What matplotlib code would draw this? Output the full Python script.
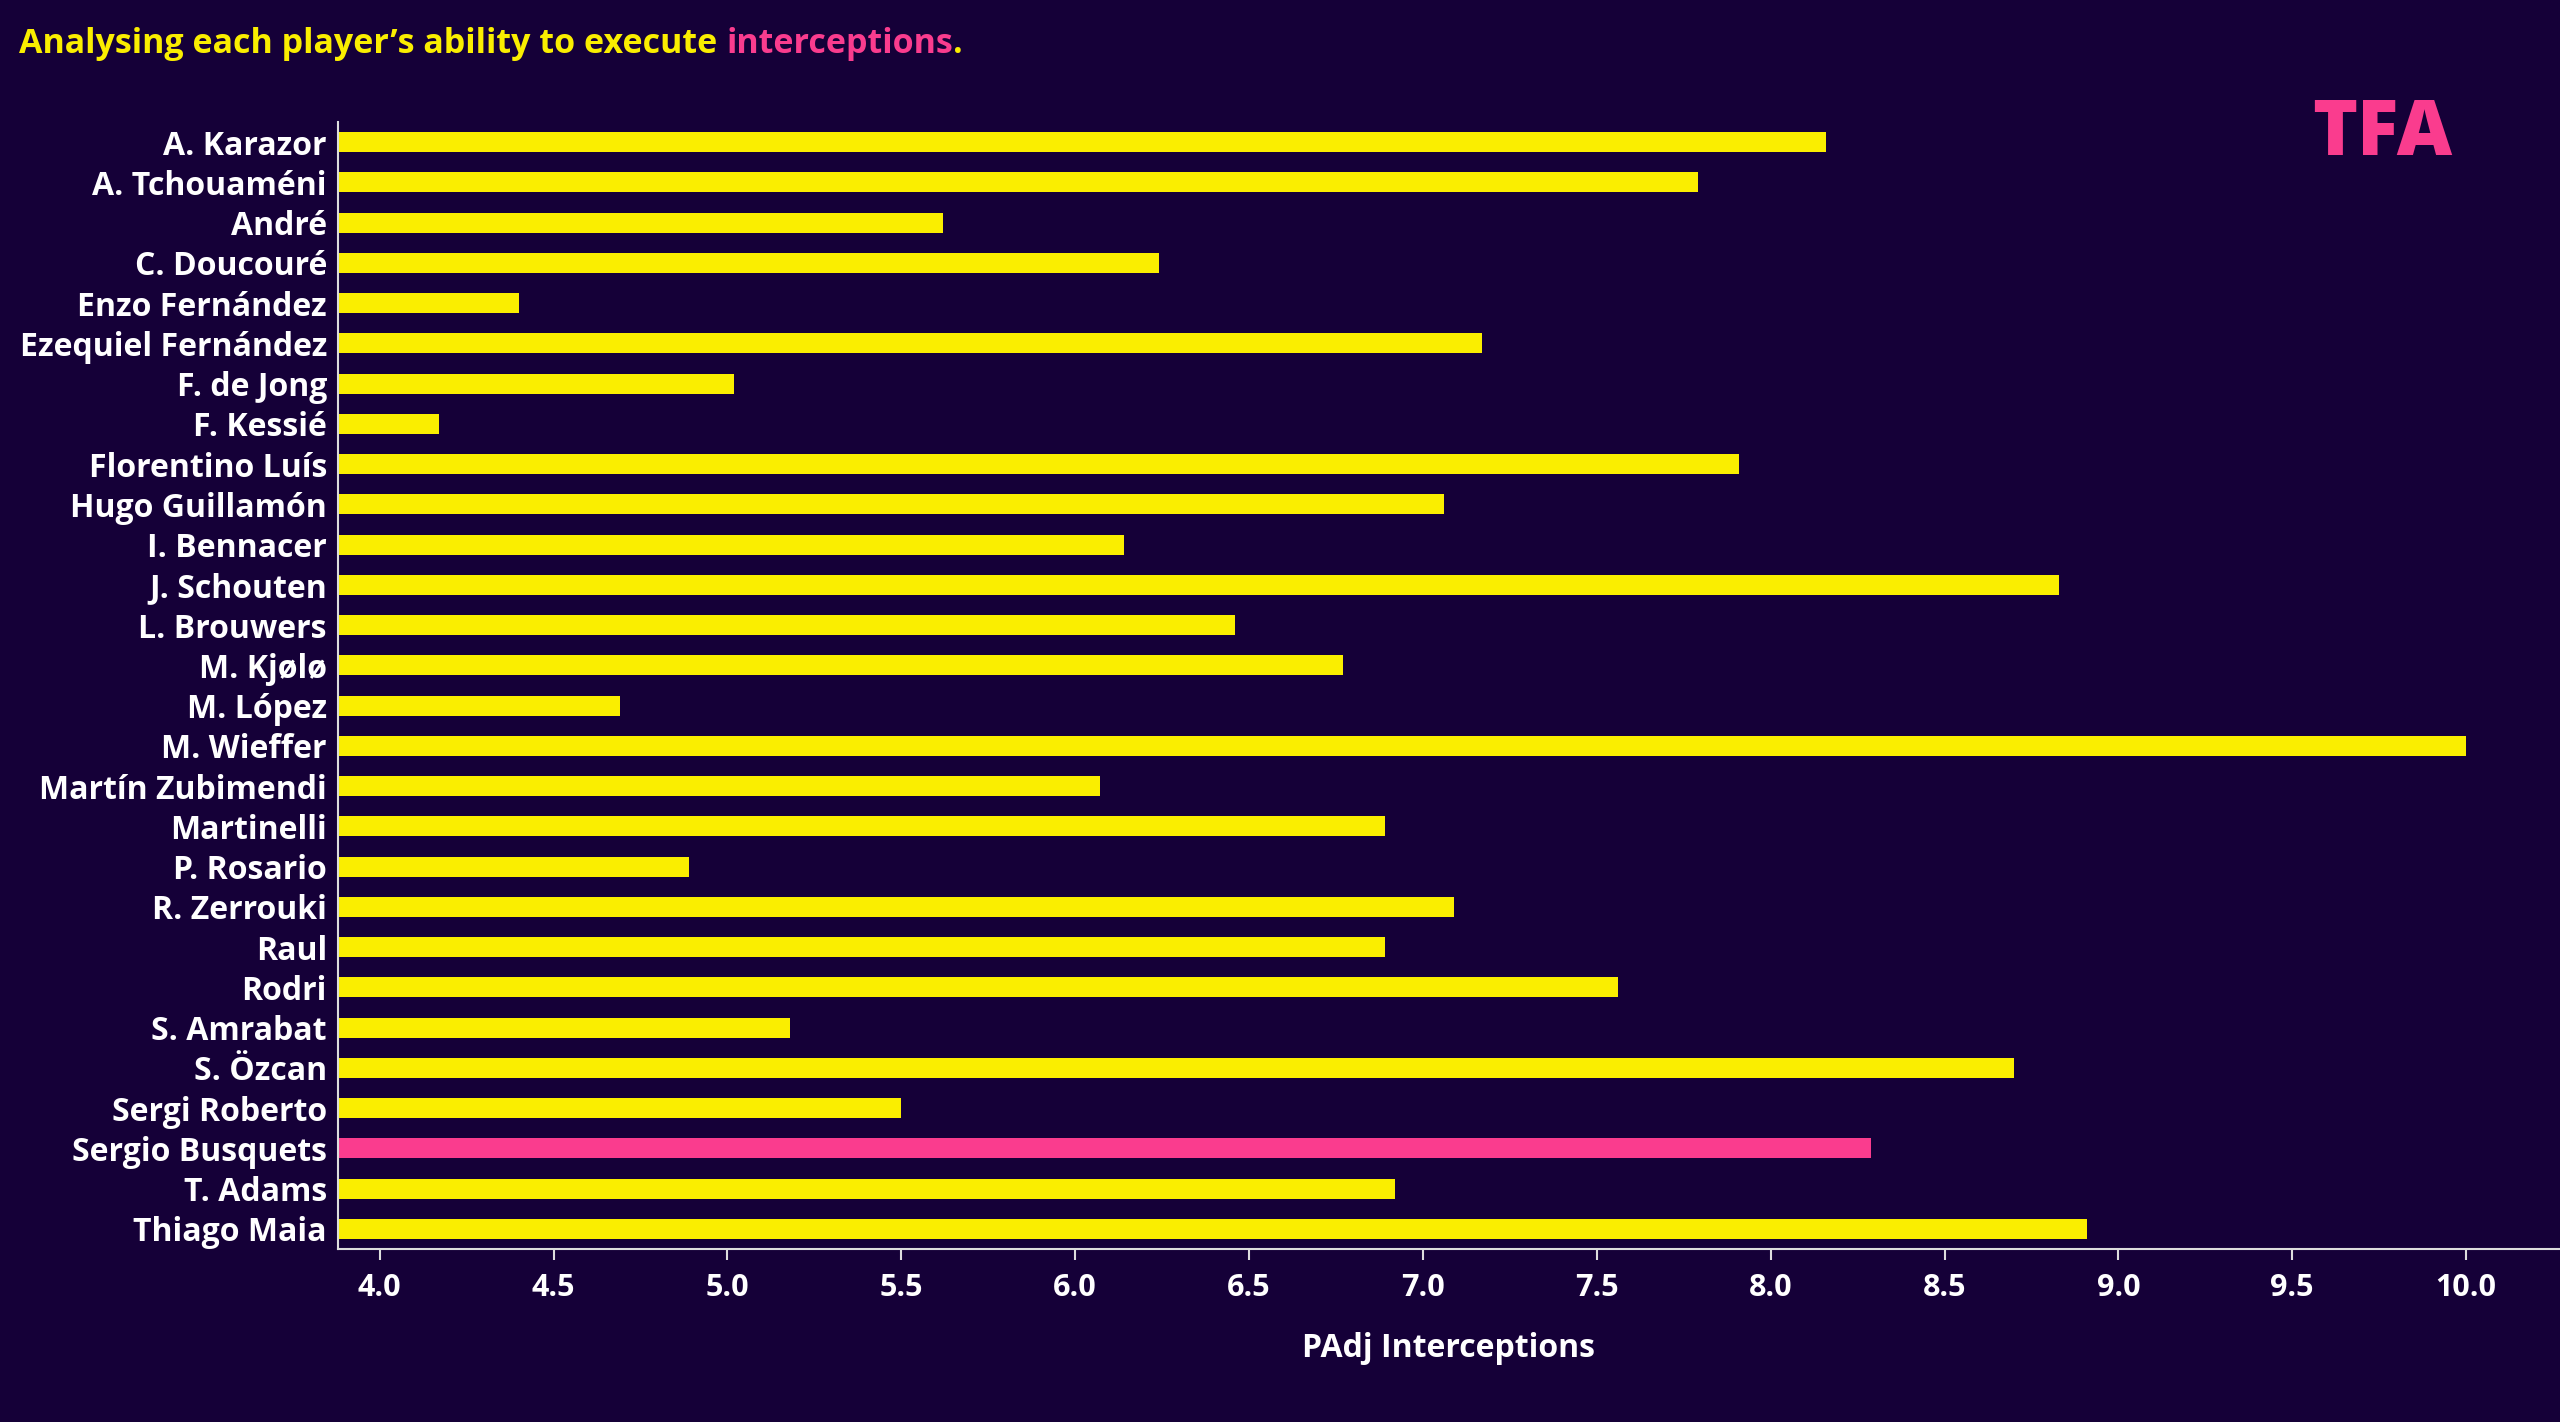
import matplotlib
matplotlib.use("Agg")
import matplotlib.pyplot as plt
import numpy as np

players = ["A. Karazor", "A. Tchouaméni", "André", "C. Doucouré", "Enzo Fernández",
           "Ezequiel Fernández", "F. de Jong", "F. Kessié", "Florentino Luís",
           "Hugo Guillamón", "I. Bennacer", "J. Schouten", "L. Brouwers", "M. Kjølø",
           "M. López", "M. Wieffer", "Martín Zubimendi", "Martinelli", "P. Rosario",
           "R. Zerrouki", "Raul", "Rodri", "S. Amrabat", "S. Özcan", "Sergi Roberto",
           "Sergio Busquets", "T. Adams", "Thiago Maia"]
values = [8.16, 7.79, 5.62, 6.24, 4.40, 7.17, 5.02, 4.17, 7.91, 7.06, 6.14, 8.83,
          6.46, 6.77, 4.69, 10.00, 6.07, 6.89, 4.89, 7.09, 6.89, 7.56, 5.18, 8.70,
          5.50, 8.29, 6.92, 8.91]
highlight = "Sergio Busquets"
xticks = [4.0, 4.5, 5.0, 5.5, 6.0, 6.5, 7.0, 7.5, 8.0, 8.5, 9.0, 9.5, 10.0]

BG = "#150038"
YELLOW = "#FAEE00"
PINK = "#FA3C8E"
WHITE = "#FFFFFF"
FONT = ["Open Sans", "DejaVu Sans"]

plt.rcParams['font.family'] = FONT
plt.rcParams['font.weight'] = 'bold'

fig = plt.figure(figsize=(25.6, 14.22), dpi=100, facecolor=BG)
ax = fig.add_axes([338/2560, 1 - 1249/1422, 1 - 338/2560, (1249 - 122)/1422])
ax.set_facecolor(BG)

y = np.arange(len(players))
colors = [PINK if p == highlight else YELLOW for p in players]
base = 3.88
ax.barh(y, [v - base for v in values], left=base, height=0.5, color=colors)

ax.set_ylim(len(players) - 0.5, -0.5)
ax.set_xlim(base, 10.27)
ax.set_yticks(y)
ax.set_yticklabels(players, fontsize=23, color=WHITE, fontweight='bold')
ax.set_xticks(xticks)
ax.set_xticklabels([f"{t:.1f}" for t in xticks], fontsize=22, color=WHITE, fontweight='bold')
ax.tick_params(axis='y', length=0, pad=8)
ax.tick_params(axis='x', length=8, width=1.5, color="#DDDDDD", pad=9)
for s in ['top', 'right']:
    ax.spines[s].set_visible(False)
for s in ['left', 'bottom']:
    ax.spines[s].set_color("#DDDDDD")
    ax.spines[s].set_linewidth(1.5)
ax.set_xlabel("PAdj Interceptions", fontsize=23, color=WHITE, fontweight='bold', labelpad=21)

t1 = fig.text(19/2560, 1 - 44/1422, "Analysing each player\u2019s ability to execute ",
              fontsize=24.5, color=YELLOW, fontweight='bold', va='center', ha='left')
t2 = fig.text(0, 0, "interceptions", fontsize=24.5, color=PINK, fontweight='bold')
t3 = fig.text(0, 0, ".", fontsize=24.5, color=YELLOW, fontweight='bold')
fig.canvas.draw()
r = fig.canvas.get_renderer()
bb1 = t1.get_window_extent(r)
t2.set_position((bb1.x1 / fig.bbox.width, bb1.y0 / fig.bbox.height))
t2.set_va('bottom')
fig.canvas.draw()
bb2 = t2.get_window_extent(r)
t3.set_position((bb2.x1 / fig.bbox.width, bb2.y0 / fig.bbox.height))
t3.set_va('bottom')

fig.text(2382/2560, 1 - 135/1422, "TFA", fontsize=55, color=PINK, fontweight='heavy',
         ha='center', va='center')

fig.savefig("out.png", dpi=100, facecolor=BG)
